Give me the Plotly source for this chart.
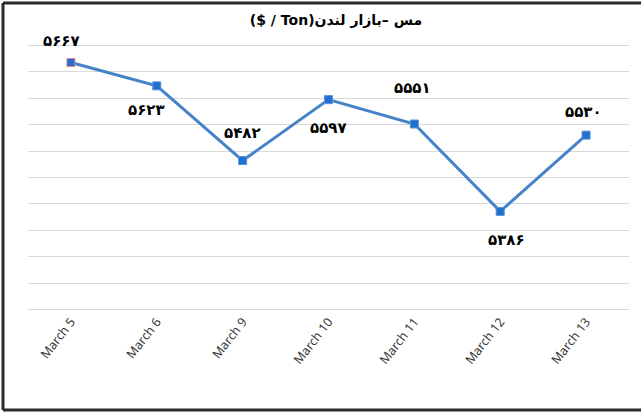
import plotly.graph_objects as go

# copper price, London market ($ / Ton)
dates = ["March 5", "March 6", "March 9", "March 10", "March 11", "March 12", "March 13"]
prices = [5667, 5623, 5482, 5597, 5551, 5386, 5530]
price_labels = ["۵۶۶۷", "۵۶۲۳", "۵۴۸۲", "۵۵۹۷", "۵۵۵۱", "۵۳۸۶", "۵۵۳۰"]

# label placement (pixels) around each point
_LABEL_DX = [-9, -10, 0, 0, -2, 6, -3]
_LABEL_DY = [22, -24, 28, -28, 36, -29, 23]

# right-to-left embedding so the Persian title lays out like the original
TITLE = "\u202bمس –بازار لندن(Ton / $)\u202c"

W, H = 641, 412
L, R, T, B = 28, 12, 44, 101
Y_RANGE = [5198, 5702]  # a hair past 5200/5700 so the edge gridlines get drawn

fig = go.Figure(go.Scatter(
    x=dates, y=prices, mode="lines+markers",
    line=dict(color="#4682c8", width=3),
    marker=dict(symbol="square", size=8, color="#1f6fd0",
                line=dict(color=["#e08a8a"] + ["#5a93d6"] * 6, width=1)),
    hoverinfo="skip",
))

for d, p, lab, dx, dy in zip(dates, prices, price_labels, _LABEL_DX, _LABEL_DY):
    fig.add_annotation(x=d, y=p, text=f"<b>{lab}</b>", showarrow=False,
                       xshift=dx, yshift=dy,
                       font=dict(family="DejaVu Sans", size=15, color="#000000"))

# outer frame: only left, top and bottom edges show in the original
pw, ph = W - L - R, H - T - B
fx0, fx1 = (3 - L) / pw, (W + 10 - L) / pw
fy0, fy1 = (H - B - 410) / ph, (H - B - 3) / ph
_frame = dict(color="#2b2b2b", width=3)
for x0, y0, x1, y1 in [(fx0, fy0, fx0, fy1), (fx0, fy1, fx1, fy1), (fx0, fy0, fx1, fy0)]:
    fig.add_shape(type="line", xref="paper", yref="paper", x0=x0, y0=y0, x1=x1, y1=y1,
                  line=_frame, layer="above")

fig.update_layout(
    width=W, height=H, margin=dict(l=L, r=R, t=T, b=B, autoexpand=False),
    paper_bgcolor="white", plot_bgcolor="white", showlegend=False,
    title=dict(text=f"<b>{TITLE}</b>", x=(336 - L) / pw, xref="paper", xanchor="center",
               y=1 - 20 / H, yanchor="middle", automargin=False,
               font=dict(family="DejaVu Sans", size=14, color="#000000")),
    xaxis=dict(range=[-0.5, len(dates) - 0.5], showgrid=False, zeroline=False,
               showline=False, ticks="", automargin=False, tickangle=-52,
               tickfont=dict(family="Noto Sans", size=12.5, color="#3a3a3a")),
    yaxis=dict(range=Y_RANGE, tick0=5200, dtick=50, showticklabels=False, zeroline=False,
               automargin=False, showgrid=True, gridcolor="#d9d9d9", gridwidth=1,
               showline=False),
)

fig.write_html("out.html", config={"displayModeBar": False},
               post_script="document.body.style.margin = '0';"
                           "document.body.style.overflow = 'hidden';")
